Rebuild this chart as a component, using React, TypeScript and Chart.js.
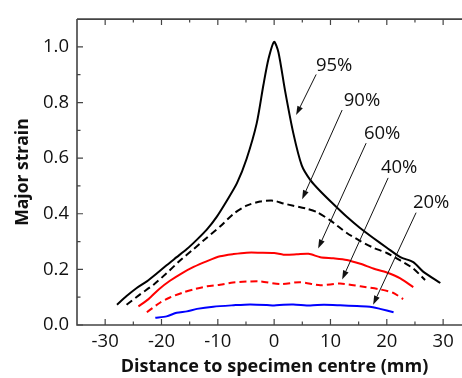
import React, { useEffect, useRef } from 'react';
import { Chart, registerables } from 'chart.js';

Chart.register(...registerables);

// ---- Data ----
const s95X = [-27.9, -26.2, -24.4, -22.6, -20.8, -19.1, -17.3, -15.5, -13.7, -12.0, -10.2, -8.4, -6.6, -4.9, -3.1, -1.9, -1.0, 0, 0.77, 1.95, 3.4, 4.9, 6.4, 8.2, 10.5, 12.9, 15.3, 17.6, 20.0, 22.4, 24.7, 26.5, 29.5];
const s95Y = [0.073, 0.104, 0.133, 0.157, 0.186, 0.215, 0.244, 0.273, 0.307, 0.342, 0.389, 0.447, 0.510, 0.597, 0.725, 0.864, 0.957, 1.018, 0.98, 0.841, 0.690, 0.574, 0.522, 0.481, 0.435, 0.389, 0.348, 0.313, 0.278, 0.244, 0.226, 0.191, 0.151];

const s90X = [-26.2, -23.8, -21.4, -19.1, -16.7, -14.3, -12.0, -9.6, -7.2, -4.9, -2.5, -0.1, 1.66, 3.4, 5.8, 7.6, 9.9, 12.9, 15.3, 17.6, 20.0, 22.4, 24.7, 26.8];
const s90Y = [0.073, 0.110, 0.145, 0.186, 0.232, 0.273, 0.313, 0.354, 0.400, 0.429, 0.444, 0.447, 0.437, 0.429, 0.418, 0.406, 0.377, 0.331, 0.302, 0.278, 0.259, 0.232, 0.203, 0.162];

const s60X = [-24.1, -22.3, -20.5, -18.5, -16.4, -14.3, -12.0, -9.6, -7.2, -4.9, -2.5, 0, 1.66, 4.0, 6.1, 8.2, 10.5, 12.9, 15.3, 17.6, 20.0, 22.4, 24.7];
const s60Y = [0.067, 0.093, 0.128, 0.159, 0.186, 0.209, 0.229, 0.247, 0.255, 0.260, 0.260, 0.259, 0.253, 0.254, 0.256, 0.244, 0.240, 0.234, 0.220, 0.203, 0.189, 0.168, 0.136];

const s40X = [-22.6, -20.2, -18.5, -16.0, -14.3, -11.9, -9.6, -7.3, -4.9, -2.5, 1.07, 4.6, 8.2, 11.7, 15.3, 18.8, 21.1, 22.9];
const s40Y = [0.046, 0.081, 0.099, 0.118, 0.128, 0.139, 0.145, 0.153, 0.156, 0.157, 0.147, 0.154, 0.143, 0.149, 0.139, 0.128, 0.116, 0.093];

const s20X = [-21.1, -19.1, -17.3, -15.5, -13.7, -10.8, -7.2, -4.3, -1.3, 0, 1.66, 3.4, 6.4, 8.8, 11.7, 14.7, 17.0, 18.8, 21.2];
const s20Y = [0.026, 0.031, 0.044, 0.049, 0.058, 0.066, 0.071, 0.074, 0.072, 0.070, 0.073, 0.074, 0.070, 0.073, 0.071, 0.068, 0.066, 0.058, 0.046];

const xTicks = [-30, -20, -10, 0, 10, 20, 30];
const xMinorTicks = [-25, -15, -5, 5, 15, 25];
const yTicks = [0, 0.2, 0.4, 0.6, 0.8, 1.0];
const yMinorTicks = [0.1, 0.3, 0.5, 0.7, 0.9];

// annotations (data coordinates)
const annLabels = ['95%', '90%', '60%', '40%', '20%'];
const annTextX = [10.65, 15.6, 19.17, 22.19, 27.87];
const annTextY = [0.933, 0.807, 0.686, 0.564, 0.439];
const annFromX = [7.46, 12.07, 16.33, 20.24, 25.2];
const annFromY = [0.901, 0.773, 0.654, 0.529, 0.404];
const annToX = [3.9, 4.97, 7.81, 12.07, 17.57];
const annToY = [0.755, 0.452, 0.275, 0.164, 0.073];

const xTitle = 'Distance to specimen centre (mm)';
const yTitle = 'Major strain';

const FONT = "'Open Sans', 'DejaVu Sans', sans-serif";

const pts = (xs: number[], ys: number[]) => xs.map((x, i) => ({ x, y: ys[i] }));

const framePlugin = {
  id: 'frame',
  afterDraw(chart: any) {
    const { ctx, chartArea, scales } = chart;
    const xs = scales.x;
    const ys = scales.y;
    const { left, right, top, bottom } = chartArea;
    ctx.save();
    ctx.strokeStyle = '#444';
    ctx.lineWidth = 1.6;
    ctx.beginPath();
    ctx.moveTo(left, top);
    ctx.lineTo(left, bottom);
    ctx.lineTo(right, bottom);
    ctx.moveTo(left, top);
    ctx.lineTo(right, top);
    ctx.stroke();
    ctx.lineWidth = 1.2;
    ctx.beginPath();
    const xt = (v: number, len: number) => {
      const p = xs.getPixelForValue(v);
      ctx.moveTo(p, bottom);
      ctx.lineTo(p, bottom - len);
      ctx.moveTo(p, top);
      ctx.lineTo(p, top + len);
    };
    xTicks.forEach((v) => xt(v, 6));
    xMinorTicks.forEach((v) => xt(v, 3.5));
    const yt = (v: number, len: number) => {
      const p = ys.getPixelForValue(v);
      ctx.moveTo(left, p);
      ctx.lineTo(left + len, p);
    };
    yTicks.forEach((v) => yt(v, 6));
    yMinorTicks.forEach((v) => yt(v, 3.5));
    ctx.stroke();

    // annotations
    ctx.fillStyle = '#111';
    ctx.strokeStyle = '#111';
    ctx.font = `18.5px ${FONT}`;
    ctx.textAlign = 'center';
    ctx.textBaseline = 'middle';
    annLabels.forEach((t, i) => {
      ctx.fillText(t, xs.getPixelForValue(annTextX[i]), ys.getPixelForValue(annTextY[i]));
      const x1 = xs.getPixelForValue(annFromX[i]);
      const y1 = ys.getPixelForValue(annFromY[i]);
      const x2 = xs.getPixelForValue(annToX[i]);
      const y2 = ys.getPixelForValue(annToY[i]);
      const ang = Math.atan2(y2 - y1, x2 - x1);
      const hl = 9;
      const hw = 3;
      const bx = x2 - hl * Math.cos(ang);
      const by = y2 - hl * Math.sin(ang);
      ctx.lineWidth = 1;
      ctx.beginPath();
      ctx.moveTo(x1, y1);
      ctx.lineTo(bx, by);
      ctx.stroke();
      ctx.beginPath();
      ctx.moveTo(x2, y2);
      ctx.lineTo(bx + hw * Math.sin(ang), by - hw * Math.cos(ang));
      ctx.lineTo(bx - hw * Math.sin(ang), by + hw * Math.cos(ang));
      ctx.closePath();
      ctx.fill();
    });

    // x axis title
    ctx.font = `bold 18px ${FONT}`;
    ctx.fillText(xTitle, 274.5, 367);
    ctx.restore();
  },
};

export default function App() {
  const ref = useRef<HTMLCanvasElement>(null);
  useEffect(() => {
    document.body.style.margin = '0';
    const line = (data: any, color: string, dash: number[]) => ({
      data,
      borderColor: color,
      backgroundColor: color,
      borderWidth: 2,
      borderDash: dash,
      pointRadius: 0,
      tension: 0.25,
      fill: false,
    });
    const chart = new Chart(ref.current as HTMLCanvasElement, {
      type: 'line',
      data: {
        datasets: [
          line(pts(s95X, s95Y), '#000000', []),
          line(pts(s90X, s90Y), '#000000', [7, 4]),
          line(pts(s60X, s60Y), '#ff0000', []),
          line(pts(s40X, s40Y), '#ff0000', [7, 4]),
          line(pts(s20X, s20Y), '#0000ff', []),
        ] as any,
      },
      options: {
        responsive: false,
        animation: false,
        layout: { padding: { top: 9, left: 0, right: 0, bottom: 0 } },
        plugins: { legend: { display: false }, tooltip: { enabled: false } },
        scales: {
          x: {
            type: 'linear',
            min: -35,
            max: 33.35,
            grid: { display: false, drawTicks: false },
            border: { display: false },
            afterBuildTicks: (s: any) => {
              s.ticks = xTicks.map((v) => ({ value: v }));
            },
            afterFit: (s: any) => {
              s.height = 53;
            },
            ticks: {
              padding: 6,
              color: '#111',
              font: { family: FONT, size: 18.5 },
              maxRotation: 0,
              autoSkip: false,
              callback: (v: any) => String(v),
            },
          },
          y: {
            type: 'linear',
            min: 0,
            max: 1.1,
            grid: { display: false, drawTicks: false },
            border: { display: false },
            afterBuildTicks: (s: any) => {
              s.ticks = yTicks.map((v) => ({ value: v }));
            },
            afterFit: (s: any) => {
              s.width = 77;
            },
            ticks: {
              padding: 8,
              color: '#111',
              font: { family: FONT, size: 18.5 },
              autoSkip: false,
              callback: (v: any) => Number(v).toFixed(1),
            },
            title: {
              display: true,
              text: yTitle,
              color: '#111',
              font: { family: FONT, size: 17.5, weight: 'bold' },
              padding: { top: 13, bottom: 0 },
            },
          },
        },
      },
      plugins: [framePlugin],
    });
    return () => chart.destroy();
  }, []);
  return (
    <div style={{ width: 462, height: 378 }}>
      <canvas ref={ref} width={462} height={378} style={{ display: 'block' }} />
    </div>
  );
}
